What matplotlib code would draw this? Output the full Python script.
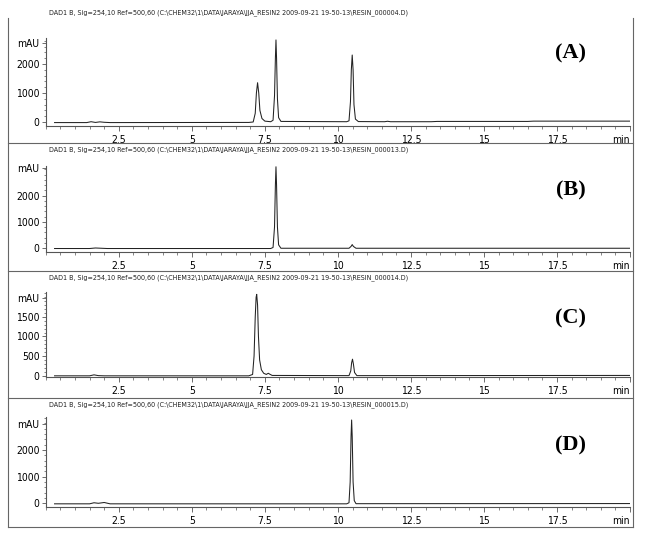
#!/usr/bin/env python3
"""HPLC chromatograms (DAD1 B, 254 nm) of four resin fractions, stacked as (A)-(D)."""
import matplotlib

matplotlib.use("Agg")
import matplotlib.pyplot as plt
from matplotlib import font_manager
from matplotlib.lines import Line2D
from matplotlib.ticker import MultipleLocator


TITLE_BASE = r"DAD1 B, Sig=254,10 Ref=500,60 (C:\CHEM32\1\DATA\JARAYA\JJA_RESIN2 2009-09-21 19-50-13\RESIN_{}.D)"
RUN_IDS = ["000004", "000013", "000014", "000015"]
PANEL_LABELS = ["(A)", "(B)", "(C)", "(D)"]

# retention time (min) / signal (mAU) points
A_TIME = [0.3, 1.4, 1.55, 1.7, 1.85, 2.0, 2.2,
          6.95, 7.10, 7.17, 7.21, 7.25, 7.29, 7.33, 7.40, 7.50,
          7.70, 7.78, 7.83, 7.86, 7.88, 7.90, 7.93, 7.97, 8.05,
          10.30, 10.38, 10.43, 10.46, 10.49, 10.52, 10.55, 10.60, 10.70,
          11.6, 11.7, 11.8, 13.2, 13.4, 16.5, 16.7, 20.0]
A_SIGNAL = [-20, -20, 10, -15, 5, -10, -20,
            -15, 0, 300, 1000, 1355, 1000, 400, 120, 30,
            10, 60, 900, 2200, 2830, 2200, 800, 150, 20,
            10, 40, 700, 1800, 2310, 1800, 600, 100, 15,
            10, 25, 10, 10, 20, 20, 30, 30]

B_TIME = [0.3, 1.5, 1.7, 1.9, 2.1,
          7.70, 7.78, 7.83, 7.86, 7.88, 7.90, 7.93, 7.97, 8.05,
          10.38, 10.45, 10.49, 10.53, 10.62, 20.0]
B_SIGNAL = [-20, -20, 0, -10, -20,
            -20, 20, 800, 2400, 3100, 2400, 800, 120, -10,
            -10, 60, 130, 60, -10, -10]

C_TIME = [0.3, 1.5, 1.65, 1.8, 2.0,
          6.95, 7.08, 7.13, 7.17, 7.20, 7.22, 7.25, 7.28, 7.32, 7.38, 7.46, 7.55,
          7.58, 7.62, 7.66, 7.75,
          10.38, 10.44, 10.47, 10.50, 10.53, 10.57, 10.65, 20.0]
C_SIGNAL = [-5, -5, 20, 0, -5,
            -5, 30, 500, 1500, 2000, 2075, 1800, 1000, 400, 150, 60, 30,
            45, 60, 40, 5,
            0, 120, 330, 420, 300, 80, 0, 5]

D_TIME = [0.3, 1.5, 1.65, 1.8, 2.0, 2.2,
          10.30, 10.38, 10.42, 10.45, 10.47, 10.49, 10.52, 10.56, 10.62, 20.0]
D_SIGNAL = [-20, -20, 20, 0, 30, -20,
            -20, 20, 800, 2500, 3120, 2500, 800, 100, -15, -10]

TRACES = [(A_TIME, A_SIGNAL), (B_TIME, B_SIGNAL), (C_TIME, C_SIGNAL), (D_TIME, D_SIGNAL)]
Y_LIMITS = [(-138, 2897), (-153, 3130), (-35, 2135), (-139, 3232)]
Y_TICKS = [[0, 1000, 2000], [0, 1000, 2000], [0, 500, 1000, 1500], [0, 1000, 2000]]
Y_MINOR = [200, 200, 100, 200]
MAU_POS = [2724, 3038, 1990, 2970]
X_TICKS = [2.5, 5, 7.5, 10, 12.5, 15, 17.5, 20]
X_LABELS = ["2.5", "5", "7.5", "10", "12.5", "15", "17.5", "min"]

W, H = 649, 535
# panel geometry in pixels
AX_TOP = [38, 166, 292, 417]
AX_BOTTOM = [126, 252, 377, 507]
TITLE_Y = [13, 150, 278, 405]
SEPARATORS = [143, 271, 398, 527]
AX_LEFT, AX_RIGHT = 45.8, 630
FRAME_LEFT, FRAME_RIGHT, FRAME_TOP = 8, 633, 18
TITLE_LEFT, TITLE_RIGHT = 49, 410

INK = "#222222"
AXIS_GREY = "#555555"

STRETCH_RANK = {"ultra-condensed": 0, "extra-condensed": 1, "condensed": 2, "semi-condensed": 3}


def pick_narrow_font():
    # most condensed upright regular sans available, else Liberation Sans
    best = None
    for f in font_manager.fontManager.ttflist:
        rank = STRETCH_RANK.get(str(f.stretch))
        if rank is None or f.style != "normal" or f.weight not in (400, "normal", "regular"):
            continue
        if "serif" in f.name.lower() and "sans" not in f.name.lower():
            continue
        if best is None or rank < best[0]:
            best = (rank, f.name, f.stretch)
    if best is None:
        return ["Liberation Sans", "DejaVu Sans"], "normal"
    return [best[1], "DejaVu Sans"], best[2]


NARROW, STRETCH = pick_narrow_font()


def fx(px):
    return px / W


def fy(py):
    return 1 - py / H


def fit_title(fig, text):
    # shrink the font until the header line spans the same width as the original
    renderer = fig.canvas.get_renderer()
    size = 7.2
    while size > 4.0:
        text.set_fontsize(size)
        if text.get_window_extent(renderer).width <= TITLE_RIGHT - TITLE_LEFT:
            break
        size -= 0.1


def draw_panel(fig, i):
    bottom = fy(AX_BOTTOM[i])
    height = (AX_BOTTOM[i] - AX_TOP[i]) / H
    ax = fig.add_axes([fx(AX_LEFT), bottom, (AX_RIGHT - AX_LEFT) / W, height])
    t, s = TRACES[i]
    ax.plot(t, s, color=INK, linewidth=0.75)

    ax.set_xlim(0, 20)
    ax.set_ylim(*Y_LIMITS[i])
    for side in ["top", "right"]:
        ax.spines[side].set_visible(False)
    for side in ["left", "bottom"]:
        ax.spines[side].set_color(AXIS_GREY)
        ax.spines[side].set_linewidth(0.8)

    ax.set_xticks(X_TICKS)
    ax.set_xticklabels(X_LABELS, family=NARROW, stretch=STRETCH, fontsize=7.5)
    ax.get_xticklabels()[-1].set_ha("right")
    ax.xaxis.set_minor_locator(MultipleLocator(0.5))
    ax.tick_params(axis="x", which="major", length=3.6, width=0.6, color=AXIS_GREY, pad=3.0)
    ax.tick_params(axis="x", which="minor", length=2.0, width=0.5, color=AXIS_GREY)

    ax.set_yticks(Y_TICKS[i] + [MAU_POS[i]])
    ax.set_yticklabels([str(v) for v in Y_TICKS[i]] + ["mAU"], family=NARROW, stretch=STRETCH, fontsize=7.5)
    ax.yaxis.set_minor_locator(MultipleLocator(Y_MINOR[i]))
    ax.tick_params(axis="y", which="major", length=3.0, width=0.6, color=AXIS_GREY, pad=1.5)
    ax.tick_params(axis="y", which="minor", length=1.6, width=0.5, color=AXIS_GREY)

    title = fig.text(fx(TITLE_LEFT), fy(TITLE_Y[i]), TITLE_BASE.format(RUN_IDS[i]), family=NARROW,
                     stretch=STRETCH, ha="left", va="center", color=INK)
    fit_title(fig, title)
    fig.text(fx(571), fy(TITLE_Y[i] + 40), PANEL_LABELS[i], family="Liberation Serif",
             fontweight="bold", fontsize=16, ha="center", va="center", color="black")


def main():
    fig = plt.figure(figsize=(W / 100, H / 100), dpi=100)
    for i in range(len(TRACES)):
        draw_panel(fig, i)

    frame = dict(color="#666666", linewidth=0.8)
    fig.add_artist(Line2D([fx(FRAME_LEFT)] * 2, [fy(FRAME_TOP), fy(SEPARATORS[-1])], **frame))
    fig.add_artist(Line2D([fx(FRAME_RIGHT)] * 2, [fy(FRAME_TOP), fy(SEPARATORS[-1])], **frame))
    for y in SEPARATORS:
        fig.add_artist(Line2D([fx(FRAME_LEFT), fx(FRAME_RIGHT)], [fy(y)] * 2, **frame))

    fig.savefig("out.png", dpi=100)
    plt.close(fig)


if __name__ == "__main__":
    main()
